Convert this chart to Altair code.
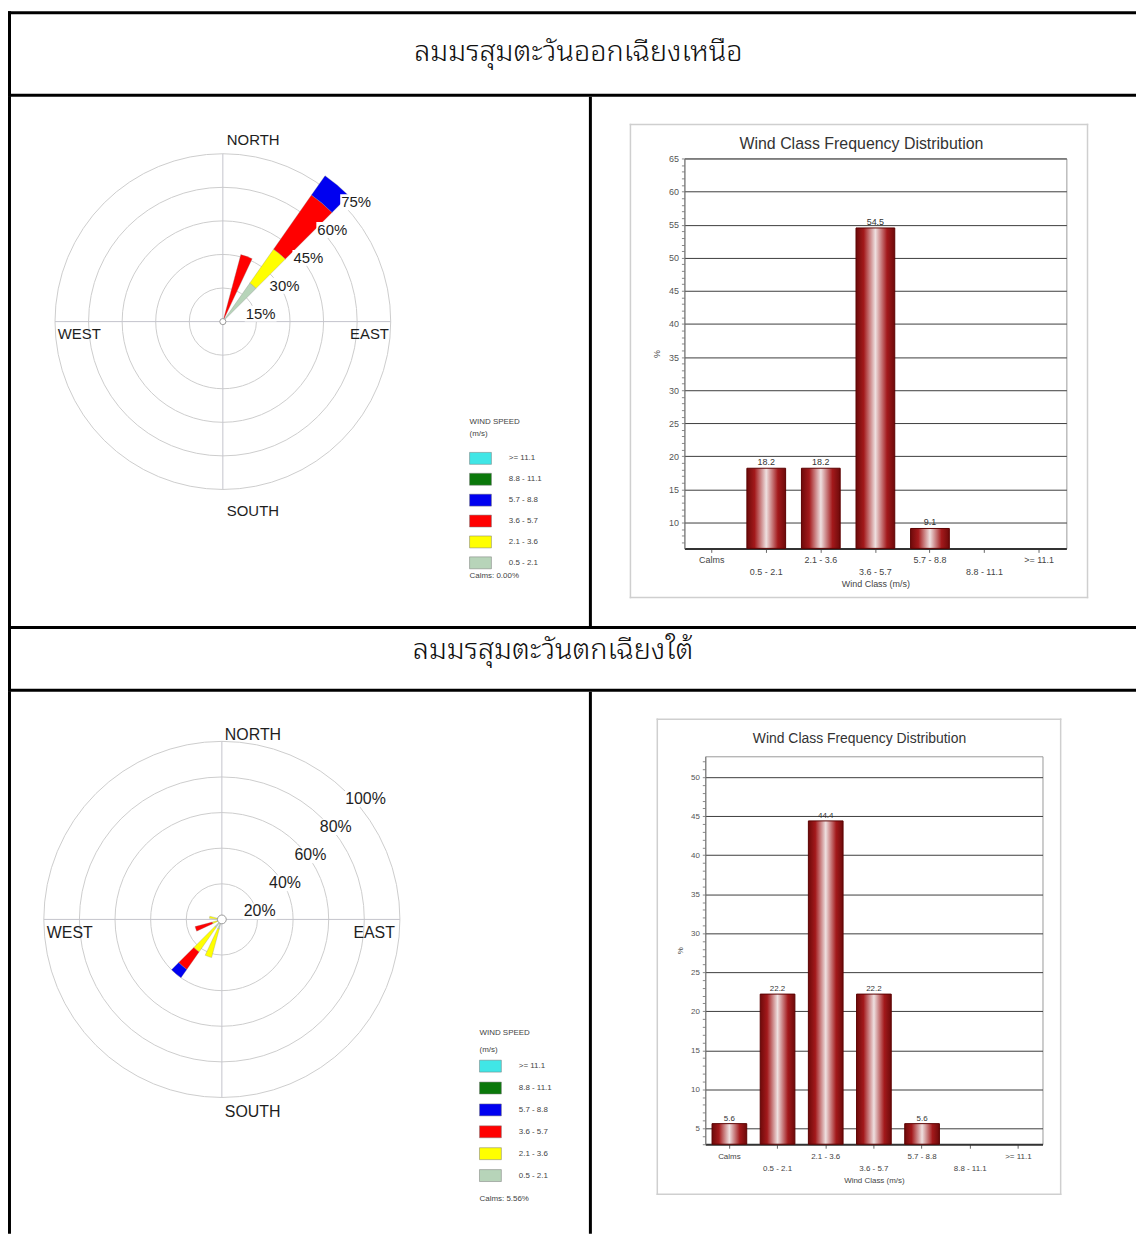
import json
import math
import altair as alt
import pandas as pd

# ------------------------------------------------------------------ data
HEADER_1 = "ลมมรสุมตะวันออกเฉียงเหนือ"
HEADER_2 = "ลมมรสุมตะวันตกเฉียงใต้"

SPEED_CLASSES = [">= 11.1", "8.8 - 11.1", "5.7 - 8.8", "3.6 - 5.7", "2.1 - 3.6", "0.5 - 2.1"]
SPEED_COLORS = ["#40e6e6", "#0a780a", "#0000f0", "#ff0000", "#ffff00", "#b7d4b9"]

COMPASS = ["NORTH", "SOUTH", "WEST", "EAST"]

ROSE1_RINGS = [15, 30, 45, 60, 75]
ROSE1_DIRECTION = [40, 40, 40, 40, 20]
ROSE1_CLASS = ["0.5 - 2.1", "2.1 - 3.6", "3.6 - 5.7", "5.7 - 8.8", "3.6 - 5.7"]
ROSE1_PERCENT = [21.0, 18.5, 29.5, 10.6, 31.0]
ROSE1_CALMS = "Calms: 0.00%"

ROSE2_RINGS = [20, 40, 60, 80, 100]
ROSE2_DIRECTION = [220, 220, 220, 220, 200, 200, 250, 250, 280]
ROSE2_CLASS = ["0.5 - 2.1", "2.1 - 3.6", "3.6 - 5.7", "5.7 - 8.8",
               "0.5 - 2.1", "2.1 - 3.6", "2.1 - 3.6", "3.6 - 5.7", "2.1 - 3.6"]
ROSE2_PERCENT = [5.6, 16.7, 12.0, 5.7, 5.6, 16.6, 5.6, 10.0, 7.0]
ROSE2_CALMS = "Calms: 5.56%"

BAR_CLASSES = ["Calms", "0.5 - 2.1", "2.1 - 3.6", "3.6 - 5.7", "5.7 - 8.8", "8.8 - 11.1", ">= 11.1"]
BAR1_PERCENT = [0, 18.2, 18.2, 54.5, 9.1, 0, 0]
BAR2_PERCENT = [5.6, 22.2, 44.4, 22.2, 5.6, 0, 0]
BAR_TITLE = "Wind Class Frequency Distribution"
BAR_X_TITLE = "Wind Class (m/s)"
BAR_Y_TITLE = "%"

# ------------------------------------------------------------------ layout / style
TEXT_FONT = "Liberation Sans, Arial, Helvetica, sans-serif"
THAI_FONT = ("Noto Sans Thai Looped, Noto Serif Thai, Loma, Garuda, Kinnari, Norasi, Laksaman, "
             "Sawasdee, Tlwg Typo, Noto Sans Thai, sans-serif")
TOTAL_W = 1134
HEAD1_H = 86
ROW1_H = 532
HEAD2_H = 66
ROW2_H = 545
ROSE_W = 587
LINE_W = 3
SECTOR = 10

ONE = pd.DataFrame({"one": [1]})

GRAD = alt.Gradient(
    gradient="linear", x1=0, x2=1, y1=0, y2=0,
    stops=[
        alt.GradientStop(color="#6e0a0a", offset=0),
        alt.GradientStop(color="#a3191b", offset=0.2),
        alt.GradientStop(color="#eee0e0", offset=0.5),
        alt.GradientStop(color="#a3191b", offset=0.8),
        alt.GradientStop(color="#6e0a0a", offset=1),
    ],
)

NO_STROKE_VIEW = alt.ViewBackground(stroke="transparent", strokeWidth=0, strokeOpacity=0)


def box(x0, x1, y0, y1, color="black"):
    """Filled, stroke-less rectangle (used for table lines and the panel frame)."""
    return alt.Chart(ONE).mark_rect(color=color).encode(
        x=alt.value(x0), x2=alt.value(x1), y=alt.value(y0), y2=alt.value(y1))


def spacer(h):
    return alt.Chart(ONE).mark_point(opacity=0, size=1).properties(
        width=1, height=h, view=NO_STROKE_VIEW)


def make_header(text, h, tx, ty, fs):
    label = alt.Chart(pd.DataFrame({"t": [text]})).mark_text(
        font=THAI_FONT, fontSize=fs, fontWeight=300, color="#111111", align="center", baseline="middle"
    ).encode(text="t:N", x=alt.value(tx), y=alt.value(ty))
    return alt.layer(
        label,
        box(0, TOTAL_W, 0, LINE_W),
        box(0, TOTAL_W, h - LINE_W, h),
        box(0, LINE_W, 0, h),
    ).properties(width=TOTAL_W, height=h, view=NO_STROKE_VIEW)


def make_rose(rings, dirs, classes, pcts, calms, g):
    W, H, cx, cy, k = ROSE_W, g["h"], g["cx"], g["cy"], g["k"]
    xs = alt.Scale(domain=[-cx / k, (W - cx) / k], nice=False, zero=False)
    ys = alt.Scale(domain=[-(H - cy) / k, cy / k], nice=False, zero=False)
    ts = alt.Scale(domain=[0, 360], range=[0, 2 * math.pi], nice=False, zero=False)
    rmax = max(rings)
    rs = alt.Scale(type="linear", domain=[0, rmax], range=[0, rmax * k], nice=False, zero=True)

    def X(f):
        return alt.X(f, type="quantitative", scale=xs, axis=None)

    def Y(f):
        return alt.Y(f, type="quantitative", scale=ys, axis=None)

    ring_df = pd.DataFrame({"ring": rings, "label": [f"{r}%" for r in rings]})

    circles = alt.Chart(ring_df).transform_calculate(
        ox="0", oy="0", t0="0", t1="360"
    ).mark_arc(fill="transparent", stroke="#cdcdcd", strokeWidth=1).encode(
        x=X("ox"), y=Y("oy"),
        theta=alt.Theta("t0:Q", scale=ts, stack=False), theta2="t1:Q",
        radius=alt.Radius("ring:Q", scale=rs, stack=False),
    )

    cross_df = pd.DataFrame({"x1": [-rmax, 0], "x2": [rmax, 0], "y1": [0, -rmax], "y2": [0, rmax]})
    cross = alt.Chart(cross_df).mark_rule(color="#c4c4cc", strokeWidth=1).encode(
        x=X("x1"), x2="x2", y=Y("y1"), y2="y2")

    lx, ly, lh, tpad, rpad = g["legend"]
    legend = alt.Legend(
        orient="none", legendX=lx, legendY=ly, title=["WIND SPEED", "(m/s)"],
        titleFont=TEXT_FONT, titleFontSize=8, titleFontWeight="normal", titleColor="#444444",
        titleLineHeight=lh, titlePadding=tpad,
        labelFont=TEXT_FONT, labelFontSize=8, labelColor="#444444", labelOffset=22,
        symbolType="M-1.833,-1L1.833,-1L1.833,1L-1.833,1Z", symbolSize=144, symbolOffset=4.5,
        symbolStrokeWidth=0.5, symbolStrokeColor="#777777", symbolOpacity=1,
        rowPadding=rpad, padding=0,
    )

    petal_df = pd.DataFrame({"dir": dirs, "cls": classes, "pct": pcts, "seq": list(range(len(dirs)))})
    petals = alt.Chart(petal_df).transform_window(
        r_out="sum(pct)", groupby=["dir"], sort=[alt.SortField("seq", order="ascending")], frame=[None, 0]
    ).transform_calculate(
        r_in="datum.r_out - datum.pct",
        t0=f"datum.dir - {SECTOR / 2}",
        t1=f"datum.dir + {SECTOR / 2}",
        ox="0", oy="0",
    ).mark_arc(stroke="#888888", strokeWidth=0.3).encode(
        x=X("ox"), y=Y("oy"),
        theta=alt.Theta("t0:Q", scale=ts, stack=False), theta2="t1:Q",
        radius=alt.Radius("r_out:Q", scale=rs, stack=False), radius2="r_in:Q",
        color=alt.Color("cls:N", scale=alt.Scale(domain=SPEED_CLASSES, range=SPEED_COLORS), legend=legend),
    )

    ax, bx, ay, by = g["ring_lab"]
    fs = g["fs"]
    labs = alt.Chart(ring_df).transform_calculate(
        lx=f"{ax / k} + {bx} * datum.ring",
        ly=f"{-ay / k} + {by} * datum.ring",
        bx0=f"datum.lx - {1 / k}",
        bx1=f"datum.lx + ({fs} * (0.556 * (length(datum.label) - 1) + 0.889) + 1) / {k}",
        by0=f"datum.ly - {8 / k}",
        by1=f"datum.ly + {8 / k}",
    )
    lab_bg = labs.mark_rect(fill="white").encode(x=X("bx0"), x2="bx1", y=Y("by0"), y2="by1")
    lab_txt = labs.mark_text(align="left", baseline="middle", font=TEXT_FONT, fontSize=fs,
                             color="#1e1e1e").encode(x=X("lx"), y=Y("ly"), text="label:N")

    dot = alt.Chart(ONE).transform_calculate(ox="0", oy="0").mark_point(
        shape="circle", filled=True, fill="white", stroke="#999999", strokeWidth=1, size=g["dot"], opacity=1
    ).encode(x=X("ox"), y=Y("oy"))

    comp_df = pd.DataFrame([
        {"name": n, "lx": dx / k, "ly": -dy / k, "al": al}
        for n, (dx, dy, al) in zip(COMPASS, g["compass"])
    ])
    comp = alt.Chart(comp_df)
    comp_l = comp.transform_filter("datum.al == 'left'").mark_text(
        align="left", baseline="middle", font=TEXT_FONT, fontSize=fs, color="#1e1e1e"
    ).encode(x=X("lx"), y=Y("ly"), text="name:N")
    comp_r = comp.transform_filter("datum.al == 'right'").mark_text(
        align="right", baseline="middle", font=TEXT_FONT, fontSize=fs, color="#1e1e1e"
    ).encode(x=X("lx"), y=Y("ly"), text="name:N")

    cxp, cyp = g["calms"]
    calms_t = alt.Chart(pd.DataFrame({"t": [calms]})).mark_text(
        align="left", baseline="middle", font=TEXT_FONT, fontSize=8, color="#444444"
    ).encode(text="t:N", x=alt.value(cxp), y=alt.value(cyp))

    return alt.layer(
        circles, cross, petals, lab_bg, lab_txt, dot, comp_l, comp_r, calms_t,
        box(0, LINE_W, 0, H), box(W - LINE_W, W, 0, H),
    ).properties(width=W, height=H, view=NO_STROKE_VIEW)


def make_bar(values, g):
    W, H = g["w"], g["h"]
    df = pd.DataFrame({"cls": BAR_CLASSES, "v": values})
    y0, y1 = g["ydom"]
    ys = alt.Scale(domain=[y0, y1], nice=False, zero=False, clamp=True)
    xs = alt.Scale(domain=BAR_CLASSES, paddingInner=g["pad"], paddingOuter=g["pad"] / 2)
    fl = g["fs_lab"]
    ticks = list(range(math.ceil(y0), math.floor(y1) + 1))
    second = json.dumps(BAR_CLASSES[1::2])
    xaxis = alt.Axis(
        title=BAR_X_TITLE, labelAngle=0, labelFont=TEXT_FONT, labelFontSize=fl, labelColor="#444444",
        labelPadding={"condition": {"test": f"indexof({second}, datum.value) >= 0", "value": g["lp2"]},
                      "value": g["lp1"]},
        labelOverlap=False, tickSize=4, tickColor="#666666", domainColor="#333333", domainWidth=2,
        titleFont=TEXT_FONT, titleFontSize=fl, titleFontWeight="normal", titleColor="#444444",
        titlePadding=g["tp"], grid=False,
    )
    yaxis = alt.Axis(
        values=ticks, labelExpr="datum.value % 5 == 0 ? datum.label : ''",
        grid=True,
        gridColor={"condition": {"test": "datum.value % 5 == 0", "value": "#3c3c3c"}, "value": "transparent"},
        gridWidth=1, tickSize=3, tickColor="#888888", domainColor="#777777",
        labelFont=TEXT_FONT, labelFontSize=fl, labelColor="#555555", labelPadding=3,
        title=BAR_Y_TITLE, titleFont=TEXT_FONT, titleFontSize=fl, titleFontWeight="normal",
        titleColor="#444444", titleX=g["ytx"], titleY=H / 2, titleAngle=270,
        titleAlign="center", titleBaseline="middle",
    )
    base = alt.Chart(df).encode(
        x=alt.X("cls:N", sort=BAR_CLASSES, scale=xs, axis=xaxis),
        y=alt.Y("v:Q", scale=ys, axis=yaxis),
    )
    bars = base.transform_filter("datum.v > 0").mark_bar(color=GRAD, stroke="#5c0000", strokeWidth=1)
    labels = base.transform_filter("datum.v > 0").mark_text(
        baseline="bottom", dy=-1, font=TEXT_FONT, fontSize=fl, color="#333333"
    ).encode(text=alt.Text("v:Q", format=".1f"))
    fx0, fx1, fy0, fy1 = g["frame"]
    fw = 1.5
    fc = "#cfcfcf"
    frame = [
        box(fx0, fx1, fy0, fy0 + fw, fc), box(fx0, fx1, fy1 - fw, fy1, fc),
        box(fx0, fx0 + fw, fy0, fy1, fc), box(fx1 - fw, fx1, fy0, fy1, fc),
    ]
    title = alt.Chart(pd.DataFrame({"t": [BAR_TITLE]})).mark_text(
        font=TEXT_FONT, fontSize=g["fs_title"], color="#333333", align="center", baseline="middle"
    ).encode(text="t:N", x=alt.value(W / 2 + g["tdx"]), y=alt.value(g["ty"]))
    return alt.layer(*frame, bars, labels, title).properties(
        width=W, height=H, view=alt.ViewBackground(stroke="#9a9a9a", strokeWidth=1))


ROSE1_G = dict(h=ROW1_H, cx=216, cy=226, k=2.25, fs=15,
               compass=[(4, -183, "left"), (4, 190, "left"), (-166, 12, "left"), (167, 12, "right")],
               ring_lab=(-1, 0.711, 20, 0.83), dot=38,
               legend=(464, 322.5, 12.5, 14, 6), calms=(464, 482))
ROSE2_G = dict(h=ROW2_H, cx=215, cy=229, k=1.79, fs=16,
               compass=[(3, -185, "left"), (3, 194, "left"), (-176, 14, "left"), (174, 14, "right")],
               ring_lab=(-3.5, 0.712, 20.2, 0.789), dot=78,
               legend=(474, 339.5, 16.5, 6, 7), calms=(474, 510))
BAR1_G = dict(w=384, h=392, ydom=[6.09, 65], pad=0.29, fs_lab=9, fs_title=16, lp1=3.5, lp2=15.5, tp=3,
              tdx=-14, ty=-15, frame=(-55, 406, -35, 442), ytx=-28)
BAR2_G = dict(w=339, h=390, ydom=[2.96, 52.68], pad=0.28, fs_lab=8, fs_title=14, lp1=4, lp2=16, tp=4,
              tdx=-14.5, ty=-17, frame=(-49, 358, -38, 441), ytx=-25)

head1 = make_header(HEADER_1, HEAD1_H, 573.5, 41, 29)
head2 = make_header(HEADER_2, HEAD2_H, 548, 24, 29)

rose1 = make_rose(ROSE1_RINGS, ROSE1_DIRECTION, ROSE1_CLASS, ROSE1_PERCENT, ROSE1_CALMS, ROSE1_G)
rose2 = make_rose(ROSE2_RINGS, ROSE2_DIRECTION, ROSE2_CLASS, ROSE2_PERCENT, ROSE2_CALMS, ROSE2_G)
bar1 = make_bar(BAR1_PERCENT, BAR1_G)
bar2 = make_bar(BAR2_PERCENT, BAR2_G)

row1 = alt.hconcat(
    rose1, alt.vconcat(spacer(26), bar1, spacing=0), spacing=37,
).resolve_scale(color="independent").resolve_legend(color="independent")
row2 = alt.hconcat(
    rose2, alt.vconcat(spacer(26), bar2, spacing=0), spacing=64,
).resolve_scale(color="independent").resolve_legend(color="independent")

chart = alt.vconcat(
    head1, row1, head2, row2, spacing=0
).resolve_scale(color="independent").resolve_legend(color="independent").properties(
    padding=0
).configure_view(stroke="transparent", strokeWidth=0, strokeOpacity=0).configure(background="white")

chart.save("out.html", embed_options={"renderer": "svg", "actions": False})
